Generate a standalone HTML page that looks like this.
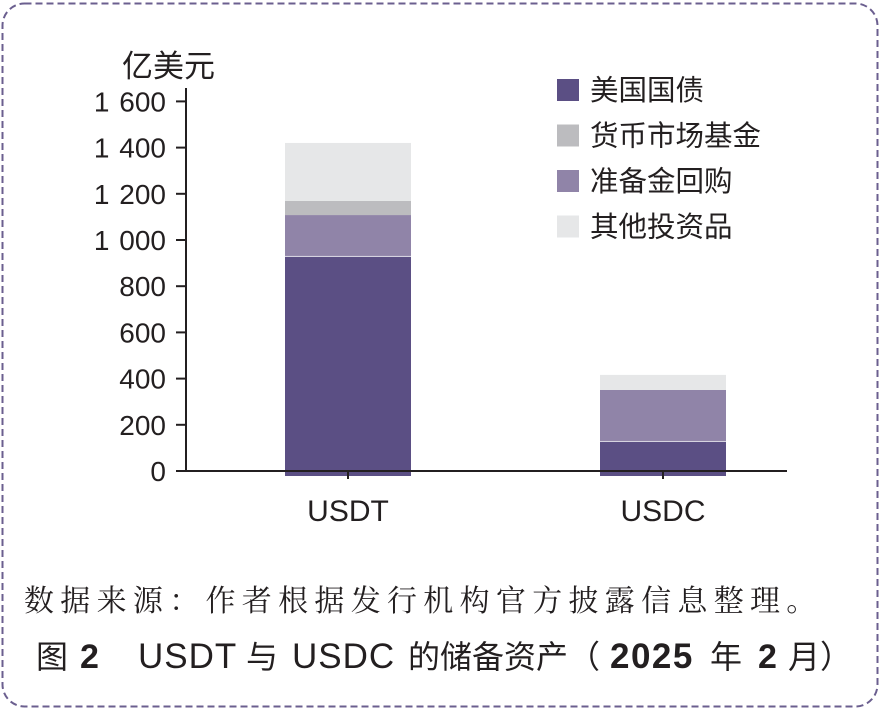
<!DOCTYPE html>
<html><head><meta charset="utf-8"><style>
body{margin:0;background:#fff;}
svg text{font-family:"Liberation Sans","Noto Sans CJK SC",sans-serif;fill:#231f20;}
</style></head><body>
<svg width="884" height="712" xmlns="http://www.w3.org/2000/svg">
<rect x="2.5" y="3.5" width="875" height="703" rx="22" fill="none" stroke="#6b5f8f" stroke-width="2" stroke-dasharray="7,4"/>
<text x="122" y="77" font-size="31">亿美元</text>
<g id="plot"></g>
<g id="legend"></g>
<text x="24" y="611" font-size="30" letter-spacing="6.3" style="font-family:'Noto Serif CJK SC','AR PL UKai CN',serif">数据来源：作者根据发行机构官方披露信息整理。</text>
<text y="668" font-size="32"><tspan x="36">图</tspan><tspan x="80" font-weight="bold" font-size="34">2</tspan><tspan x="138" font-size="35" letter-spacing="1">USDT</tspan><tspan x="246">与</tspan><tspan x="292" font-size="35" letter-spacing="1">USDC</tspan><tspan x="408">的储备资产（</tspan><tspan x="610" font-weight="bold" font-size="35" letter-spacing="1.5">2025</tspan><tspan x="710">年</tspan><tspan x="758" font-weight="bold" font-size="34">2</tspan><tspan x="788">月）</tspan></text>
</svg>
<script>
const categories=["USDT","USDC"];
const seriesNames=["美国国债","货币市场基金","准备金回购","其他投资品"];
const treasury=[931,130];
const moneyMarket=[61,0];
const repo=[177,221];
const other=[251,65];
const yTicks=[0,200,400,600,800,1000,1200,1400,1600];
const yTickLabels=["0","200","400","600","800","1 000","1 200","1 400","1 600"];
const colors=["#5b4f84","#bcbcbf","#9084a8","#e6e7e8"];
const NS="http://www.w3.org/2000/svg";
const plot=document.getElementById('plot'),legend=document.getElementById('legend');
const y0=471,pxPer=46.2/200;
function y(v){return y0-v*pxPer;}
const xCenters=[348,663],bw=126;
function mk(t,a,p){const e=document.createElementNS(NS,t);for(const k in a)e.setAttribute(k,a[k]);(p||plot).appendChild(e);return e;}
const stackOrder=[[treasury,0],[repo,2],[moneyMarket,1],[other,3]];
categories.forEach((c,i)=>{
  let base=0;
  stackOrder.forEach(([arr,ci],k)=>{
    const v=arr[i]; if(!v){return;}
    const top=y(base+v),bot=k===0?y0+5:y(base);
    const r=mk('rect',{x:xCenters[i]-bw/2,y:top,width:bw,height:bot-top,fill:colors[ci]});
    
    
    if(k===0){mk('line',{x1:xCenters[i]-bw/2,x2:xCenters[i]+bw/2,y1:top,y2:top,stroke:'#fff','stroke-width':1.5});}
    base+=v;
  });
  mk('line',{x1:xCenters[i],x2:xCenters[i],y1:y0,y2:y0+8,stroke:'#231f20','stroke-width':2});
  const t=mk('text',{x:xCenters[i],y:521,'font-size':30,'text-anchor':'middle'});t.textContent=c;
  
  
});
const ax=mk('line',{x1:186,x2:186,y1:88,y2:y0+1,stroke:'#231f20','stroke-width':2});


const xa=mk('line',{x1:185,x2:787,y1:y0,y2:y0,stroke:'#231f20','stroke-width':2});


yTicks.forEach((v,i)=>{
  mk('line',{x1:176,x2:186,y1:y(v),y2:y(v),stroke:'#231f20','stroke-width':2});
  const t=mk('text',{x:166,y:y(v)+10,'font-size':28,'text-anchor':'end','word-spacing':2});t.textContent=yTickLabels[i];
  
  
});
seriesNames.forEach((n,i)=>{
  const yy=79+i*45.5;
  const r=mk('rect',{x:557,y:yy,width:22,height:22,fill:colors[i]},legend);
  
  
  const t=mk('text',{x:590,y:yy+21,'font-size':28.5},legend);t.textContent=n;
  
  
});
</script>
</body></html>
